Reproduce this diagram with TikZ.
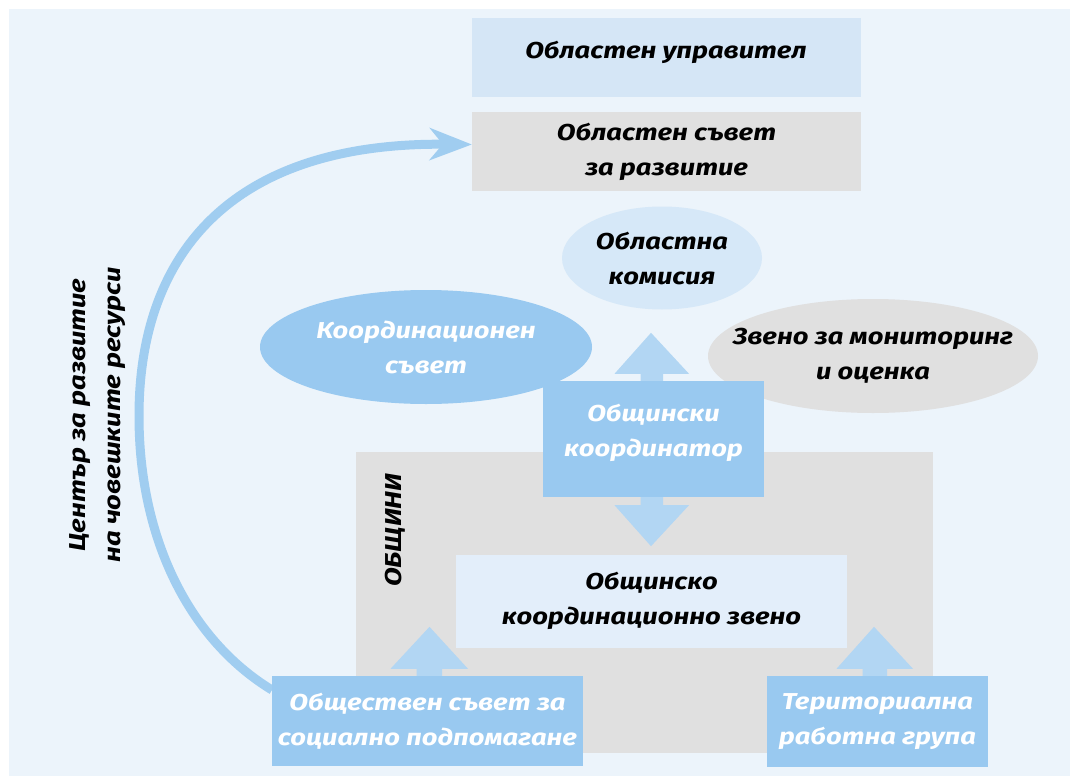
\documentclass[tikz,border=0pt]{standalone}
\usepackage{fontspec}
\setmainfont{Fira Sans}[Language=Bulgarian, FakeStretch=1.19]
\usetikzlibrary{arrows.meta,calc,shapes.geometric}

\definecolor{bgblue}{RGB}{236,244,251}
\definecolor{paleblue}{RGB}{213,230,246}
\definecolor{boxgray}{RGB}{224,224,224}
\definecolor{midblue}{RGB}{153,201,240}
\definecolor{arrowblue}{RGB}{178,214,243}
\definecolor{ovalblue}{RGB}{214,232,248}
\definecolor{innerblue}{RGB}{227,238,250}
\definecolor{curveblue}{RGB}{160,205,240}

\tikzset{
  lbl/.style={align=center, font=\fontsize{23}{35}\selectfont\bfseries\itshape, inner sep=0pt},
  dark/.style={lbl, text=black},
  light/.style={lbl, text=white},
  plainbox/.style={rectangle, inner sep=0pt, draw=none},
  oval/.style={ellipse, inner sep=0pt, draw=none},
  blockarrow/.style={fill=arrowblue, draw=none},
}

\begin{document}
\begin{tikzpicture}[x=1pt,y=-1pt]
\useasboundingbox (0,0) rectangle (1070,776);
\fill[bgblue] (9,9) rectangle (1070,776);

% regional level
\node[plainbox, fill=paleblue, minimum width=389, minimum height=79] (gov) at (666.5,57.5) {};
\node[dark] at (666,52) {Областен управител};
\node[plainbox, fill=boxgray, minimum width=389, minimum height=79] (council) at (666.5,151.5) {};
\node[dark] at (council) {Областен съвет\\за развитие};

% feedback to the regional council
\coordinate (cstart) at (272,690);
\coordinate (cend) at ($(council.west)+(0,-7)$);
\draw[curveblue, line width=9pt, -{Stealth[length=42pt,width=32pt,inset=13pt]}]
  (cstart) .. controls (190,640) and (139,540) .. (139,416)
  .. controls (139,255) and (230,142) .. (cend);
\node[dark, rotate=90] (hr) at (98,415) {Център за развитие\\на човешките ресурси};

% ovals
\node[oval, fill=ovalblue, minimum width=200, minimum height=103] (comm) at (662,258) {};
\node[dark] at (comm) {Областна\\комисия};
\node[oval, fill=midblue, minimum width=332, minimum height=114] (coord) at (426,347) {};
\node[light] at (coord) {Координационен\\съвет};
\node[oval, fill=boxgray, minimum width=330, minimum height=114] (monitor) at (873,356) {};
\node[dark] at (monitor) {Звено за мониторинг\\и оценка};

% municipalities
\node[plainbox, fill=boxgray, minimum width=577, minimum height=301] (mun) at (644.5,602.5) {};
\node[dark, rotate=90] (munlbl) at (395,530) {ОБЩИНИ};
\node[plainbox, fill=innerblue, minimum width=391, minimum height=93] (unit) at (651.5,601) {};
\node[dark] at (unit) {Общинско\\координационно звено};

% municipal coordinator
\node[plainbox, fill=midblue, minimum width=221, minimum height=116] (mc) at (653.5,439) {};
\node[light] at (653.5,433) {Общински\\координатор};

% bottom boxes
\node[plainbox, fill=midblue, minimum width=311, minimum height=90] (social) at (427.5,721) {};
\node[light] at (social) {Обществен съвет за\\социално подпомагане};
\node[plainbox, fill=midblue, minimum width=221, minimum height=91] (terr) at (877.5,721.5) {};
\node[light] at (terr) {Териториална\\работна група};

% block arrows
\fill[blockarrow] ($(mc.north)+(-13,0)$) -- ++(0,-7) -- ++(-26,0) -- ($(mc.north)+(-2.5,-48)$)
  -- ($(mc.north)+(35.5,-7)$) -- ++(-26,0) -- ++(0,7) -- cycle;
\fill[blockarrow] ($(mc.south)+(-13,0)$) -- ++(0,8) -- ++(-26,0) -- ($(mc.south)+(-2.5,49)$)
  -- ($(mc.south)+(35.5,8)$) -- ++(-26,0) -- ++(0,-8) -- cycle;
\fill[blockarrow] ($(social.north)+(-11,0)$) -- ++(0,-7) -- ++(-26,0) -- ($(social.north)+(2,-49)$)
  -- ($(social.north)+(40.5,-7)$) -- ++(-26,0) -- ++(0,7) -- cycle;
\fill[blockarrow] ($(terr.north)+(-15,0)$) -- ++(0,-7) -- ++(-26,0) -- ($(terr.north)+(-3.5,-49)$)
  -- ($(terr.north)+(35.5,-7)$) -- ++(-26,0) -- ++(0,7) -- cycle;
\end{tikzpicture}
\end{document}
